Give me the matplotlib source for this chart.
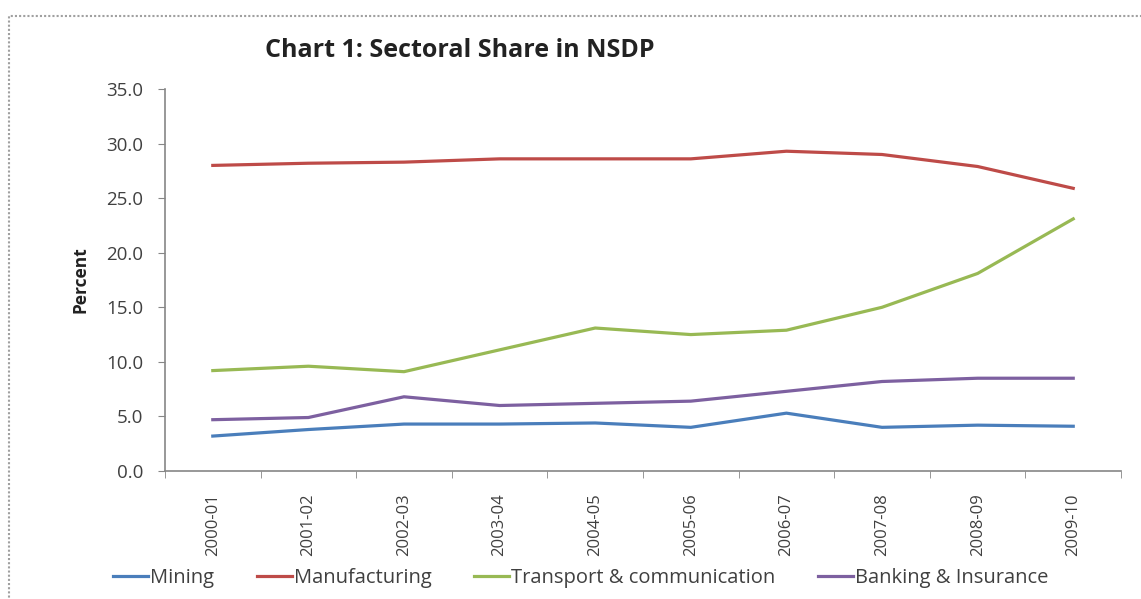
import matplotlib.pyplot as plt
from matplotlib.patches import Rectangle

years = ["2000-01", "2001-02", "2002-03", "2003-04", "2004-05",
         "2005-06", "2006-07", "2007-08", "2008-09", "2009-10"]
mining = [3.2, 3.8, 4.3, 4.3, 4.4, 4.0, 5.3, 4.0, 4.2, 4.1]
manufacturing = [28.0, 28.2, 28.3, 28.6, 28.6, 28.6, 29.3, 29.0, 27.9, 25.9]
transport = [9.2, 9.6, 9.1, 11.1, 13.1, 12.5, 12.9, 15.0, 18.1, 23.1]
banking = [4.7, 4.9, 6.8, 6.0, 6.2, 6.4, 7.3, 8.2, 8.5, 8.5]

series = [("Mining", mining, "#4a7ebb"),
          ("Manufacturing", manufacturing, "#be4b48"),
          ("Transport & communication", transport, "#98b954"),
          ("Banking & Insurance", banking, "#7d60a0")]

plt.rcParams["font.family"] = ["Open Sans", "DejaVu Sans"]

fig = plt.figure(figsize=(11.41, 5.99), dpi=100)
ax = fig.add_axes([0.1446, 0.2137, 0.8379, 0.6377])

x = list(range(len(years)))
for name, vals, col in series:
    ax.plot(x, vals, color=col, lw=2.3, label=name)

ax.set_xlim(-0.5, len(years) - 0.5)
ax.set_ylim(0, 35)
ax.set_yticks([0, 5, 10, 15, 20, 25, 30, 35])
ax.set_yticklabels([f"{v:.1f}" for v in range(0, 40, 5)], fontsize=13.5, color="#404040")
ax.set_xticks(x)
ax.set_xticklabels(years, rotation=90, fontsize=12, color="#404040")
ax.set_xticks([i - 0.5 for i in range(len(years) + 1)], minor=True)
ax.tick_params(axis="x", which="major", length=0, pad=16)
ax.tick_params(axis="x", which="minor", length=5, color="#868686", direction="out")
ax.tick_params(axis="y", length=5, color="#868686", direction="out", pad=10.5)

for s in ["top", "right"]:
    ax.spines[s].set_visible(False)
for s in ["left", "bottom"]:
    ax.spines[s].set_color("#868686")
    ax.spines[s].set_linewidth(1.2)

ax.set_ylabel("Percent", fontsize=12.5, fontweight="bold", labelpad=12, color="#222222")

fig.text(0.403, 0.915, "Chart 1: Sectoral Share in NSDP", ha="center", va="center",
         fontsize=18, fontweight="bold", color="#222222")

fig.legend(loc="center", bbox_to_anchor=(0.509, 0.035), ncol=4, frameon=False,
           fontsize=14.5, handlelength=1.75, handletextpad=0.1, columnspacing=2.1,
           labelcolor="#404040")

# dotted frame around the chart
fig.patches.append(Rectangle((9 / 1141, -0.1), 1.2, 0.1 + (599 - 16) / 599,
                             transform=fig.transFigure, fill=False,
                             edgecolor="#a0a0a0", linestyle=(0, (1, 1)), lw=1.5))

fig.savefig("out.png", dpi=100, facecolor="white")
